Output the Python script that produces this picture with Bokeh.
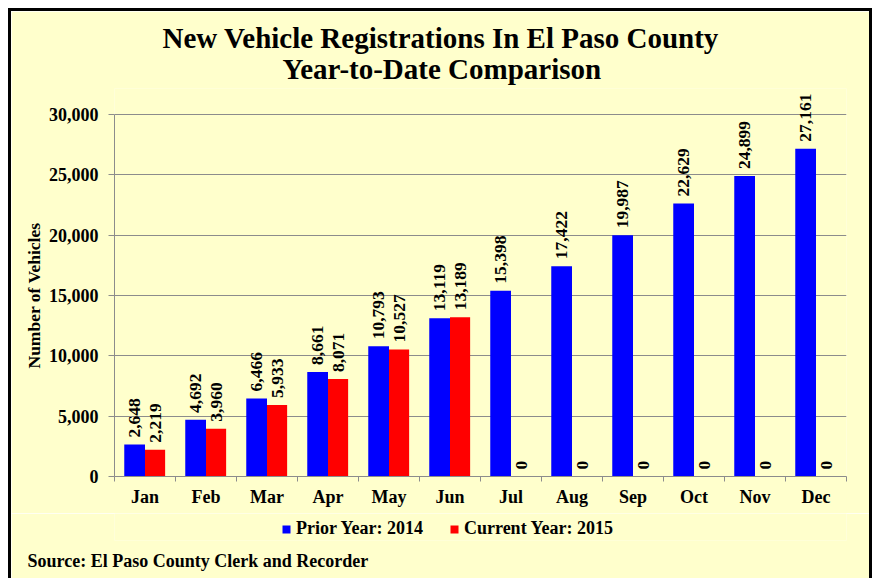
import numpy as np
from bokeh.plotting import figure
from bokeh.layouts import column
from bokeh.models import (ColumnDataSource, Range1d, FixedTicker, NumeralTickFormatter,
                          Legend, LegendItem, LabelSet, Title)
from bokeh.core.properties import value
from bokeh.transform import dodge
from bokeh.embed import file_html
from bokeh.resources import INLINE

# ---- data ----
months = ["Jan", "Feb", "Mar", "Apr", "May", "Jun", "Jul", "Aug", "Sep", "Oct", "Nov", "Dec"]
prior_2014 = [2648, 4692, 6466, 8661, 10793, 13119, 15398, 17422, 19987, 22629, 24899, 27161]
current_2015 = [2219, 3960, 5933, 8071, 10527, 13189, 0, 0, 0, 0, 0, 0]
y_ticks = [0, 5000, 10000, 15000, 20000, 25000, 30000]
series_names = ["Prior Year: 2014", "Current Year: 2015"]
title_lines = ["New Vehicle Registrations In El Paso County", "Year-to-Date Comparison"]
y_axis_title = "Number of Vehicles"
source_note = "Source: El Paso County Clerk and Recorder"

FONT = "Liberation Serif"
BG = "#FFFFCC"
GRAY = "#8C8C8C"
BLUE = "#0000FF"
RED = "#FF0000"
Y_HEADROOM = 32150  # view range top, leaves room for the tallest bar label
BORDER = "3px solid #000"

idx = list(range(len(months)))
src = ColumnDataSource(dict(
    x=idx,
    prior=prior_2014,
    current=current_2015,
    prior_lbl=[f"{v:,}" for v in prior_2014],
    current_lbl=[f"{v:,}" for v in current_2015],
))

# ---------------- main chart ----------------
p = figure(width=864, height=505, margin=(8, 0, 0, 8), output_backend="svg",
           toolbar_location=None, title=title_lines[0],
           x_range=Range1d(-0.5, len(months) - 0.5), y_range=Range1d(y_ticks[0], Y_HEADROOM),
           min_border_left=103, min_border_right=29, min_border_top=77, min_border_bottom=40,
           background_fill_color=BG, border_fill_color=BG, outline_line_color=None,
           styles={"border-left": BORDER, "border-top": BORDER, "border-right": BORDER})

p.title.text_font = FONT
p.title.text_font_style = "bold"
p.title.text_font_size = "29px"
p.title.text_color = "black"
p.title.align = "left"
p.title.offset = 48
p.title.standoff = -13
p.add_layout(Title(text=title_lines[1], align="left", offset=168, standoff=7,
                   text_font=FONT, text_font_style="bold", text_font_size="29px",
                   text_color="black"), "above")

r1 = p.vbar(x=dodge("x", -0.17), top="prior", width=0.34, source=src,
            fill_color=BLUE, line_color=None)
r2 = p.vbar(x=dodge("x", 0.165), top="current", width=0.33, source=src,
            fill_color=RED, line_color=None)

lbl_common = dict(source=src, angle=np.pi / 2, text_align="left", text_baseline="middle",
                  y_offset=7, text_font=value(FONT), text_font_style="bold",
                  text_font_size="17.5px", text_color="black")
p.add_layout(LabelSet(x=dodge("x", -0.17), y="prior", text="prior_lbl", **lbl_common))
p.add_layout(LabelSet(x=dodge("x", 0.165), y="current", text="current_lbl", **lbl_common))

p.xaxis.ticker = FixedTicker(ticks=idx, minor_ticks=[i - 0.5 for i in range(len(months) + 1)])
p.xaxis.major_label_overrides = {i: m for i, m in zip(idx, months)}
p.xaxis.major_tick_out = 0
p.xaxis.major_tick_in = 0
p.xaxis.minor_tick_out = 5
p.xaxis.minor_tick_in = 0
p.xaxis.minor_tick_line_color = GRAY
p.xaxis.axis_line_color = GRAY
p.xaxis.major_label_standoff = 5
p.xgrid.visible = False

p.yaxis.ticker = FixedTicker(ticks=y_ticks)
p.yaxis.bounds = (y_ticks[0], y_ticks[-1])
p.yaxis.formatter = NumeralTickFormatter(format="0,0")
p.yaxis.major_tick_out = 6
p.yaxis.major_tick_in = 0
p.yaxis.minor_tick_line_color = None
p.yaxis.major_tick_line_color = GRAY
p.yaxis.axis_line_color = GRAY
p.yaxis.major_label_standoff = 10
p.ygrid.grid_line_color = GRAY

for ax in (p.xaxis, p.yaxis):
    ax.major_label_text_font = FONT
    ax.major_label_text_font_style = "bold"
    ax.major_label_text_font_size = "18px"
    ax.major_label_text_color = "black"

# y-axis title, centred on the 0..30,000 span rather than on the whole frame
p.add_layout(Title(text=y_axis_title, align="left", offset=108, standoff=4,
                   text_font=FONT, text_font_style="bold", text_font_size="17.5px",
                   text_color="black"), "left")

# ---------------- legend + source strip ----------------
p2 = figure(width=864, height=65, margin=(0, 0, 0, 8), output_backend="svg",
            toolbar_location=None, x_range=Range1d(-0.5, len(months) - 0.5),
            y_range=Range1d(0, 1), x_axis_type=None, y_axis_type=None,
            min_border_left=103, min_border_right=29, min_border_top=0, min_border_bottom=38,
            background_fill_color=BG, border_fill_color=BG, outline_line_color=None,
            styles={"border-left": BORDER, "border-right": BORDER})
p2.grid.visible = False

# zero-height handles: they draw nothing and only serve as legend keys
key_src = ColumnDataSource(dict(x=idx[:1], top=[0]))
k1 = p2.vbar(x="x", top="top", width=0.3, source=key_src, fill_color=BLUE, line_color=None)
k2 = p2.vbar(x="x", top="top", width=0.3, source=key_src, fill_color=RED, line_color=None)
legend = Legend(items=[LegendItem(label=series_names[0], renderers=[k1]),
                       LegendItem(label=series_names[1], renderers=[k2])],
                orientation="horizontal", location=(167, 1),
                glyph_width=10, glyph_height=10, label_standoff=5, spacing=26,
                padding=0, margin=0, border_line_color=None, background_fill_alpha=0,
                label_text_font=FONT, label_text_font_style="bold",
                label_text_font_size="18px", label_text_color="black")
p2.add_layout(legend)

p2.add_layout(Title(text=source_note, align="left", offset=-87, standoff=16,
                    text_font=FONT, text_font_style="bold", text_font_size="18px",
                    text_color="black"), "below")

layout = column(p, p2, spacing=0)
open("out.html", "w").write(file_html(layout, INLINE))
